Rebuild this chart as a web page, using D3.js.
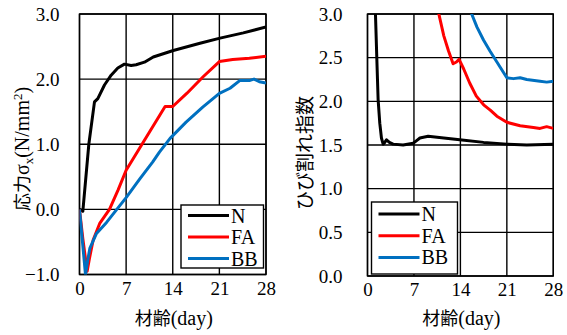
<!DOCTYPE html>
<html>
<head>
<meta charset="utf-8">
<script src="https://cdn.jsdelivr.net/npm/d3@7/dist/d3.min.js"></script>
<style>
  html, body { margin: 0; padding: 0; background: #fff; }
  svg { display: block; }
</style>
</head>
<body>
<svg id="chart" width="567" height="335"></svg>
<script>
// ---- data ----
const seriesNames = ["N", "FA", "BB"];
const seriesColors = ["#000000", "#FF0000", "#0070C0"];
const dayTicks = [0, 7, 14, 21, 28];
const stressTicks = [-1.0, 0.0, 1.0, 2.0, 3.0];
const indexTicks = [0.0, 0.5, 1.0, 1.5, 2.0, 2.5, 3.0];

// stress σx (N/mm²) vs age (day)
const stressN = [[0,0],[0.5,-0.03],[1.4,1.0],[2.25,1.65],[2.75,1.70],[3.75,1.91],[4.75,2.06],[5.75,2.17],[6.75,2.23],[7.75,2.21],[8.5,2.22],[9.75,2.26],[11.07,2.34],[14.08,2.44],[18.09,2.55],[21.1,2.63],[24.6,2.71],[28,2.80]];
const stressFA = [[0,0],[0.5,-0.45],[1.15,-0.95],[1.5,-0.75],[2.05,-0.47],[3.06,-0.21],[4.5,0],[5.8,0.3],[7,0.6],[9.5,1.02],[12.85,1.58],[14,1.58],[16.1,1.78],[18.6,2.04],[21,2.27],[23,2.30],[25.5,2.32],[28,2.35]];
const stressBB = [[0,0],[0.4,-0.45],[0.9,-1.0],[1.2,-0.8],[1.55,-0.6],[2.55,-0.37],[4.06,-0.2],[5.6,0],[7,0.18],[9,0.46],[11,0.73],[12,0.88],[13.6,1.09],[16,1.34],[18.5,1.57],[21,1.78],[22.6,1.86],[24.1,1.98],[25.6,1.98],[26.2,2.0],[27,1.96],[28,1.94]];

// cracking index vs age (day)
const indexN = [[1.0,3.6],[1.2,3.0],[1.4,2.5],[1.6,2.02],[1.85,1.75],[2.1,1.58],[2.36,1.51],[2.6,1.53],[2.86,1.56],[3.3,1.53],[3.86,1.51],[5.37,1.50],[6.88,1.52],[7.4,1.55],[7.9,1.58],[9.14,1.60],[11.5,1.58],[13.9,1.56],[17.5,1.53],[21,1.51],[24,1.50],[28,1.51]];
const indexFA = [[10.5,3.1],[10.75,3.0],[11.5,2.75],[12.2,2.58],[12.9,2.43],[13.4,2.45],[13.8,2.48],[14.5,2.37],[15.4,2.21],[16.4,2.06],[17.5,1.96],[18.5,1.90],[19.5,1.83],[21,1.76],[23,1.72],[25,1.70],[26,1.69],[27,1.71],[28,1.69]];
const indexBB = [[15.5,3.05],[15.7,3.0],[16.5,2.85],[17.5,2.70],[18.5,2.57],[19.5,2.45],[20.5,2.33],[21,2.27],[22,2.26],[23,2.27],[24,2.25],[26,2.23],[27,2.22],[28,2.23]];

const SERIF = '"Liberation Serif", "Times New Roman", serif';
const CJK = '"Noto Sans CJK JP", sans-serif';

const svg = d3.select("#chart");

function panel(cfg) {
  const x = d3.scaleLinear().domain([0, 28]).range([cfg.x0, cfg.x1]);
  const y = d3.scaleLinear().domain(cfg.yDomain).range([cfg.y1, cfg.y0]);
  const g = svg.append("g");

  const clipId = "clip-" + cfg.id;
  g.append("clipPath").attr("id", clipId)
    .append("rect").attr("x", cfg.x0).attr("y", cfg.y0)
    .attr("width", cfg.x1 - cfg.x0).attr("height", cfg.y1 - cfg.y0);

  // grid
  g.append("g").selectAll("line").data(cfg.yTicks).join("line")
    .attr("x1", cfg.x0).attr("x2", cfg.x1)
    .attr("y1", d => y(d)).attr("y2", d => y(d))
    .attr("stroke", "#000").attr("stroke-width", 1.4);
  g.append("g").selectAll("line").data(dayTicks).join("line")
    .attr("x1", d => x(d)).attr("x2", d => x(d))
    .attr("y1", cfg.y0).attr("y2", cfg.y1)
    .attr("stroke", "#000").attr("stroke-width", 1.4);
  g.append("rect").attr("x", cfg.x0).attr("y", cfg.y0)
    .attr("width", cfg.x1 - cfg.x0).attr("height", cfg.y1 - cfg.y0)
    .attr("fill", "none").attr("stroke", "#000").attr("stroke-width", 1.4);

  // tick labels via d3 axes (domain and tick lines hidden)
  const yAxis = g.append("g").attr("transform", `translate(${cfg.x0},0)`)
    .call(d3.axisLeft(y).tickValues(cfg.yTicks).tickFormat(d3.format(".1f")).tickSize(0).tickPadding(cfg.yPad));
  yAxis.select(".domain").remove();
  yAxis.selectAll("text").style("font-family", SERIF).style("font-size", "19px").attr("fill", "#000");
  const xAxis = g.append("g").attr("transform", `translate(0,${cfg.y1})`)
    .call(d3.axisBottom(x).tickValues(dayTicks).tickSize(0).tickPadding(7));
  xAxis.select(".domain").remove();
  xAxis.selectAll("text").style("font-family", SERIF).style("font-size", "19px").attr("fill", "#000");

  // lines
  const line = d3.line().x(d => x(d[0])).y(d => y(d[1])).curve(d3.curveLinear);
  const lg = g.append("g").attr("clip-path", `url(#${clipId})`);
  cfg.series.forEach((s, i) => {
    lg.append("path").datum(s).attr("d", line)
      .attr("fill", "none").attr("stroke", seriesColors[i])
      .attr("stroke-width", 3).attr("stroke-linejoin", "round");
  });

  // legend
  const L = cfg.legend;
  const leg = g.append("g");
  leg.append("rect").attr("x", L.x).attr("y", L.y).attr("width", L.w).attr("height", L.h)
    .attr("fill", "#fff").attr("stroke", "#000").attr("stroke-width", 1.4);
  seriesNames.forEach((n, i) => {
    const yy = L.y + L.first + i * L.step;
    leg.append("line").attr("x1", L.x + 7).attr("x2", L.x + 48)
      .attr("y1", yy).attr("y2", yy)
      .attr("stroke", seriesColors[i]).attr("stroke-width", 3);
    leg.append("text").attr("x", L.x + 50).attr("y", yy + 7)
      .style("font-family", SERIF).style("font-size", "20px").text(n);
  });

  // x title
  const xt = g.append("text").attr("x", (cfg.x0 + cfg.x1) / 2 + 1).attr("y", 325)
    .attr("text-anchor", "middle").style("font-family", SERIF).style("font-size", "20px");
  xt.append("tspan").style("font-family", CJK).style("font-size", "18px").text("材齢");
  xt.append("tspan").text("(day)");

  return { x, y, g };
}

panel({
  id: "stress", x0: 79.5, x1: 266, y0: 14, y1: 274.5,
  yDomain: [-1, 3], yTicks: stressTicks, yPad: 20,
  series: [stressN, stressFA, stressBB],
  legend: { x: 181, y: 205, w: 82.5, h: 63, first: 10.5, step: 21.5 }
});
panel({
  id: "index", x0: 367.5, x1: 553.3, y0: 14, y1: 276,
  yDomain: [0, 3], yTicks: indexTicks, yPad: 25,
  series: [indexN, indexFA, indexBB],
  legend: { x: 371.5, y: 202, w: 86, h: 72, first: 12, step: 21.7 }
});

// y titles
const yt1 = svg.append("text").attr("transform", "translate(29,149) rotate(-90)")
  .attr("text-anchor", "middle").style("font-family", SERIF).style("font-size", "20px");
yt1.append("tspan").style("font-family", CJK).style("font-size", "18px").text("応力");
yt1.append("tspan").text("σ");
yt1.append("tspan").style("font-size", "13px").attr("dy", 4).text("x");
yt1.append("tspan").attr("dy", -4).text("(N/mm");
yt1.append("tspan").style("font-size", "13px").attr("dy", -7).text("2");
yt1.append("tspan").attr("dy", 7).text(")");

svg.append("text").attr("transform", "translate(312,153) rotate(-90)")
  .attr("text-anchor", "middle").style("font-family", CJK).style("font-size", "19px").text("ひび割れ指数");
</script>
</body>
</html>
